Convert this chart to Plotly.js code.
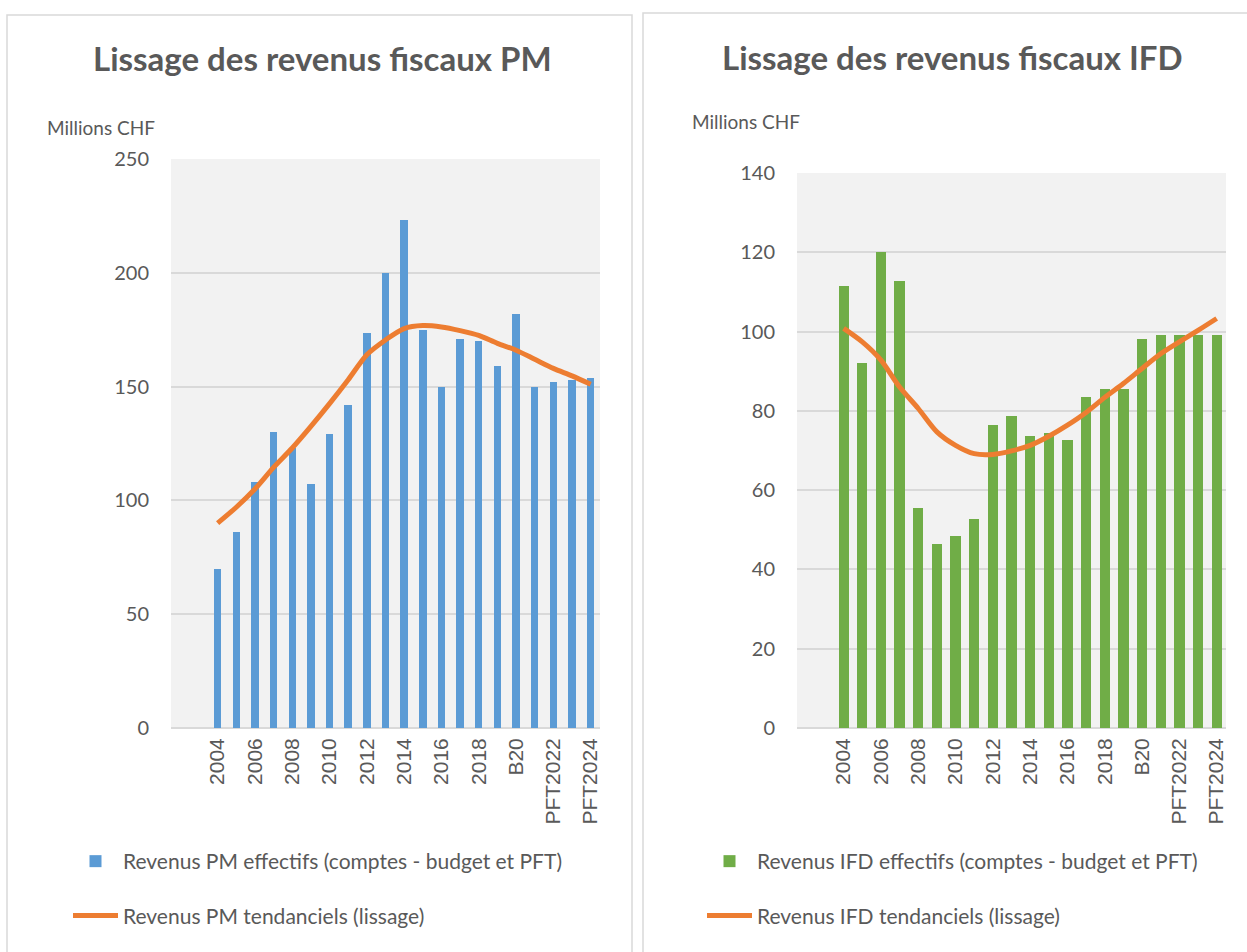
<!DOCTYPE html>
<html>
<head>
<meta charset="utf-8">
<script src="https://cdn.plot.ly/plotly-3.0.1.min.js"></script>
<style>
  html, body { margin: 0; padding: 0; background: #fff; }
  #chart { width: 1247px; height: 952px; }
</style>
</head>
<body>
<div id="chart"></div>
<script>
/* Lissage des revenus fiscaux PM / IFD: two Excel-style panels, bars for the
   actual revenue and a smoothed trend line on top. Values read off the chart. */
(function () {
  "use strict";

  var CATEGORIES = [
    "2004", "2005", "2006", "2007", "2008", "2009", "2010", "2011",
    "2012", "2013", "2014", "2015", "2016", "2017", "2018", "2019",
    "B20", "PFT2021", "PFT2022", "PFT2023", "PFT2024"
  ];
  var TICK_LABELS = [
    "2004", "2006", "2008", "2010", "2012", "2014", "2016", "2018",
    "B20", "PFT2022", "PFT2024"
  ];

  // Millions CHF
  var PM_EFFECTIFS = [
    70, 86, 108, 130, 123, 107, 129, 142, 173.5, 200, 223, 175,
    150, 171, 170, 159, 182, 150, 152, 153, 154
  ];
  var PM_LISSAGE = [
    90, 97, 105, 114.5, 123, 132.5, 142.5, 153, 164, 170.5, 175.5, 176.8,
    176.2, 174.6, 172.5, 169, 166, 162, 158, 154.7, 151
  ];
  var IFD_EFFECTIFS = [
    111.4, 92, 120, 112.8, 55.5, 46.4, 48.4, 52.6, 76.5, 78.8, 73.6, 74.3,
    72.7, 83.4, 85.6, 85.6, 98.2, 99.2, 99.2, 99.2, 99.2
  ];
  var IFD_LISSAGE = [
    100.8, 97.4, 92.8, 86, 80.6, 74.7, 71.3, 69.2, 69, 69.9, 71.3, 73.6,
    76.4, 79.6, 83.4, 86.9, 90.7, 94.4, 97.4, 100.3, 103.3
  ];

  var W = 1247, H = 952;
  var INK = "#595959";
  var GRID = "#d9d9d9";
  var BLUE = "#5b9bd5", GREEN = "#70ad47", ORANGE = "#ed7d31";
  var FONT = "Lato, 'Open Sans', sans-serif";

  function px(x) { return x / W; }
  function py(y) { return 1 - y / H; }

  function xAxis(domain, anchor) {
    return {
      domain: domain,
      anchor: anchor,
      type: "category",
      range: [-2.5, CATEGORIES.length - 0.5],
      tickmode: "array",
      tickvals: TICK_LABELS,
      ticktext: TICK_LABELS,
      tickangle: -90,
      ticks: "",
      ticklabelstandoff: 5,
      showgrid: false,
      showline: false,
      zeroline: false,
      tickfont: { family: "'Liberation Sans', Arial, sans-serif", size: 21, color: INK },
      fixedrange: true
    };
  }

  function yAxis(domain, anchor, max, dtick) {
    return {
      domain: domain,
      anchor: anchor,
      range: [0, max],
      dtick: dtick,
      ticks: "",
      gridcolor: GRID,
      gridwidth: 2,
      zeroline: true,
      zerolinecolor: GRID,
      zerolinewidth: 2,
      showline: false,
      ticklabelstandoff: 21,
      tickfont: { family: FONT, size: 20, color: INK },
      fixedrange: true
    };
  }

  var traces = [
    {
      type: "bar", name: "Revenus PM effectifs (comptes - budget et PFT)",
      x: CATEGORIES, y: PM_EFFECTIFS, xaxis: "x", yaxis: "y",
      width: 0.4, marker: { color: BLUE },
      legend: "legend", legendgroup: "pm1"
    },
    {
      type: "scatter", mode: "lines", name: "Revenus PM tendanciels (lissage)",
      x: CATEGORIES, y: PM_LISSAGE, xaxis: "x", yaxis: "y",
      line: { color: ORANGE, width: 5, shape: "spline", smoothing: 0.8 },
      legend: "legend", legendgroup: "pm2"
    },
    {
      type: "bar", name: "Revenus IFD effectifs (comptes - budget et PFT)",
      x: CATEGORIES, y: IFD_EFFECTIFS, xaxis: "x2", yaxis: "y2",
      width: 0.55, marker: { color: GREEN },
      legend: "legend2", legendgroup: "ifd1"
    },
    {
      type: "scatter", mode: "lines", name: "Revenus IFD tendanciels (lissage)",
      x: CATEGORIES, y: IFD_LISSAGE, xaxis: "x2", yaxis: "y2",
      line: { color: ORANGE, width: 5, shape: "spline", smoothing: 0.8 },
      legend: "legend2", legendgroup: "ifd2"
    }
  ];

  function legendAt(x, y) {
    return {
      x: x, y: y, xanchor: "left", yanchor: "top",
      traceorder: "grouped", tracegroupgap: 24,
      itemwidth: 45,
      bgcolor: "rgba(0,0,0,0)",
      font: { family: FONT, size: 21, color: INK }
    };
  }

  function title(text, x, y) {
    return {
      text: text, xref: "paper", yref: "paper", x: x, y: y,
      xanchor: "center", yanchor: "middle", showarrow: false,
      font: { family: FONT, size: 33, color: INK, weight: "bold" }
    };
  }

  function unit(x, y) {
    return {
      text: "Millions CHF", xref: "paper", yref: "paper", x: x, y: y,
      xanchor: "left", yanchor: "middle", showarrow: false,
      font: { family: FONT, size: 19, color: INK }
    };
  }

  var layout = {
    width: W, height: H,
    margin: { l: 0, r: 0, t: 0, b: 0 },
    paper_bgcolor: "#ffffff",
    plot_bgcolor: "#f2f2f2",
    bargap: 0,
    showlegend: true,
    xaxis: xAxis([px(171), px(600)], "y"),
    yaxis: yAxis([py(728), py(159)], "x", 250, 50),
    xaxis2: xAxis([px(797), px(1226)], "y2"),
    yaxis2: yAxis([py(728), py(173)], "x2", 140, 20),
    legend: legendAt(px(68), py(841)),
    legend2: legendAt(px(702), py(841)),
    annotations: [
      title("Lissage des revenus fiscaux PM", px(322), py(58)),
      title("Lissage des revenus fiscaux IFD", px(952), py(57)),
      unit(px(45), py(128)),
      unit(px(690), py(122))
    ],
    shapes: [
      { type: "rect", xref: "paper", yref: "paper",
        x0: px(7), x1: px(632), y0: -0.05, y1: py(15),
        line: { color: GRID, width: 1.5 } },
      { type: "rect", xref: "paper", yref: "paper",
        x0: px(643), x1: 1.05, y0: -0.05, y1: py(13),
        line: { color: GRID, width: 1.5 } }
    ]
  };

  Plotly.newPlot("chart", traces, layout, { displayModeBar: false, staticPlot: true });
})();
</script>
</body>
</html>
